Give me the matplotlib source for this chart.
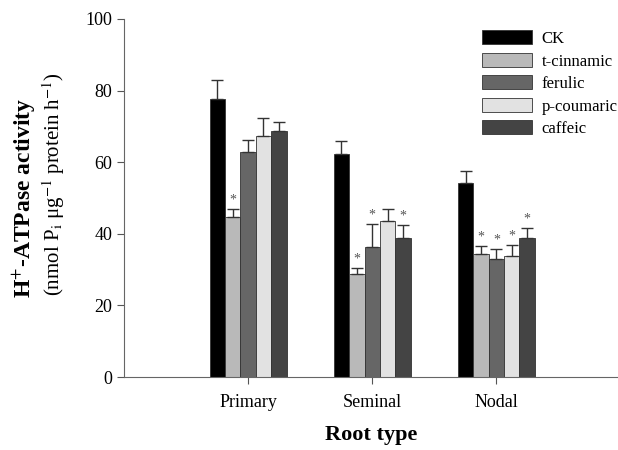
import numpy as np
import matplotlib
matplotlib.use('Agg')
import matplotlib.pyplot as plt

plt.rcParams['font.family'] = ['Liberation Serif', 'DejaVu Serif']
plt.rcParams['mathtext.fontset'] = 'stix'

root_types = ['Primary', 'Seminal', 'Nodal']
treatments = ['CK', 't-cinnamic', 'ferulic', 'p-coumaric', 'caffeic']

# mean activity per treatment, one value per root type
ck = [77.6, 62.3, 54.3]
cinnamic = [44.8, 28.8, 34.4]
ferulic = [62.9, 36.2, 32.9]
coumaric = [67.3, 43.7, 33.8]
caffeic = [68.8, 38.7, 38.7]

ck_err = [5.4, 3.7, 3.3]
cinnamic_err = [2.1, 1.6, 2.2]
ferulic_err = [3.3, 6.5, 2.8]
coumaric_err = [5.0, 3.1, 3.1]
caffeic_err = [2.4, 3.8, 2.8]

# significance marks
cinnamic_sig = [True, True, True]
ferulic_sig = [False, True, True]
coumaric_sig = [False, False, True]
caffeic_sig = [False, True, True]
ck_sig = [False, False, False]

means = [ck, cinnamic, ferulic, coumaric, caffeic]
errs = [ck_err, cinnamic_err, ferulic_err, coumaric_err, caffeic_err]
sigs = [ck_sig, cinnamic_sig, ferulic_sig, coumaric_sig, caffeic_sig]
colors = ['#000000', '#b9b9b9', '#666666', '#e2e2e2', '#444444']

fig = plt.figure(figsize=(6.18, 4.5), dpi=100)
ax = fig.add_axes([0.2006, 0.1622, 0.7994, 0.7956])

x = np.arange(1, len(root_types) + 1)
w = 0.124
for i in range(len(treatments)):
    pos = x + (i - 2) * w
    ax.bar(pos, means[i], width=w, color=colors[i], edgecolor='#333333',
           linewidth=0.6, label=treatments[i], zorder=2)
    ax.errorbar(pos, means[i], yerr=[np.zeros(3), errs[i]], fmt='none',
                ecolor='#333333', elinewidth=1, capsize=4.5, capthick=1, zorder=3)
    for j in range(3):
        if sigs[i][j]:
            ax.text(pos[j], means[i][j] + errs[i][j] + 2.5, '*', ha='center',
                    va='center', fontsize=10, color='#555555')

ax.set_xlim(0, 3.98)
ax.set_ylim(0, 100)
ax.set_xticks(x)
ax.set_xticklabels(root_types, fontsize=13)
ax.set_yticks(range(0, 101, 20))
ax.tick_params(axis='y', labelsize=13, direction='out', length=5, color='#555555')
ax.tick_params(axis='x', direction='out', length=5, color='#555555', pad=7)
for s in ['top', 'right']:
    ax.spines[s].set_visible(False)
for s in ['left', 'bottom']:
    ax.spines[s].set_color('#666666')

ax.set_xlabel('Root type', fontsize=16, fontweight='bold', labelpad=10)
fig.text(0.040, 0.56, r'H$^{+}$-ATPase activity', rotation=90, ha='center', va='center',
         fontsize=17, fontweight='bold')
fig.text(0.087, 0.59, r'(nmol P$_{\rm i}$ μg$^{-1}$ protein h$^{-1}$)', rotation=90,
         ha='center', va='center', fontsize=15)

leg = ax.legend(loc='upper right', bbox_to_anchor=(1.03, 1.01), frameon=False, fontsize=12,
                handlelength=3.0, handleheight=0.9, labelspacing=0.35, handletextpad=0.6)

fig.savefig('out.png', dpi=100)
